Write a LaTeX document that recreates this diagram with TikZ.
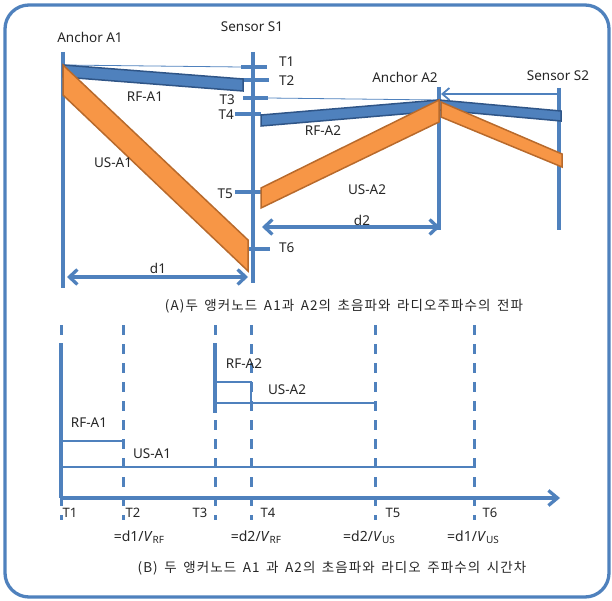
\documentclass[tikz,border=0pt]{standalone}
\usepackage{fontspec}
\setmainfont{Noto Sans}
\newfontfamily\krfont[LetterSpace=8, WordSpace=1.6]{Noto Sans CJK KR}
\usetikzlibrary{arrows.meta}
\definecolor{lineblue}{HTML}{4F81BD}
\definecolor{rfedge}{HTML}{2F5587}
\definecolor{usfill}{HTML}{F79646}
\definecolor{usedge}{HTML}{B86A2C}
\newcommand{\speedsub}[1]{\raisebox{-2.5pt}{\fontsize{10}{10}\selectfont #1}}

\begin{document}
\begin{tikzpicture}[x=1pt, y=-1pt,
  wire/.style={lineblue, line width=3.3pt},
  guide/.style={lineblue, line width=0.8pt},
  bar/.style={lineblue, line width=2.6pt},
  rfband/.style={fill=lineblue, draw=rfedge, line width=1.5pt},
  usband/.style={fill=usfill, draw=usedge, line width=1.5pt},
  lbl/.style={font=\fontsize{13.5}{15}\selectfont, text=black!85, inner sep=0pt},
  tlbl/.style={font=\fontsize{13}{15}\selectfont, text=black!85, inner sep=0pt},
  captext/.style={font=\krfont\fontsize{13.5}{16}\selectfont, text=black!85, inner sep=0pt},
  dim/.style={wire, {Straight Barb[length=8pt, width=15pt]}-{Straight Barb[length=8pt, width=15pt]}}]
  \useasboundingbox (0,0) rectangle (612,601);
  \draw[wire, rounded corners=24pt] (5,5) rectangle (609,597);

  \foreach \name/\text/\lx/\ly/\x/\ytop/\ybot in {
      A1/Anchor A1/90/37/63/52/288,
      S1/Sensor S1/252/27/253/52/283,
      A2/Anchor A2/405/77/439/87/230,
      S2/Sensor S2/558/76/559/88/230} {
    \coordinate (\name-top) at (\x,\ytop);
    \coordinate (\name-bot) at (\x,\ybot);
    \draw[wire] (\name-top) -- (\name-bot);
    \node[lbl] (\name-lbl) at (\lx,\ly) {\text};
  }

  \foreach \t/\xa/\xb/\y/\side/\lx/\ly in {
      1/241/267/67/west/279/62,
      2/243/269/80/west/279/81,
      3/243/268/98/east/235/100,
      4/235/261/114/east/234/115,
      5/235/262/192/east/233/194,
      6/248/270/249/west/279/248} {
    \coordinate (T\t-l) at (\xa,\y);
    \coordinate (T\t-r) at (\xb,\y);
    \draw[wire] (T\t-l) -- (T\t-r);
    \node[lbl, anchor=\side] (T\t-lbl) at (\lx,\ly) {T\t};
  }

  \coordinate (A1-src) at (63,65);
  \coordinate (A2-src) at (439,100);
  \draw[guide] (A1-src) -- (T1-l);
  \draw[guide] (T3-r) -- (A2-src);

  \filldraw[rfband] (A1-src) -- (243,79) -- (243,91) -- (63,77) -- cycle;
  \filldraw[usband] (A1-src) -- (248,240) -- (248,271) -- (63,95) -- cycle;
  \filldraw[rfband] (261,115) -- (A2-src) -- (439,111) -- (261,126) -- cycle;
  \filldraw[rfband] (A2-src) -- (561,111) -- (561,121) -- (439,110) -- cycle;
  \filldraw[usband] (261,188) -- (A2-src) -- (439,122) -- (261,208) -- cycle;
  \filldraw[usband] (441,102) -- (562,154) -- (562,167) -- (441,117) -- cycle;

  \coordinate (S2-arr) at (559,94);
  \coordinate (A2-arr) at (441,94);
  \draw[lineblue, line width=1.8pt, -{Straight Barb[length=7pt, width=12pt]}] (S2-arr) -- (A2-arr);

  \coordinate (d1-l) at (67,277);
  \coordinate (d1-r) at (248,277);
  \coordinate (d2-l) at (262,227);
  \coordinate (d2-r) at (440,227);
  \draw[dim] (d1-l) -- (d1-r);
  \draw[dim] (d2-l) -- (d2-r);

  \foreach \name/\text/\x/\y in {
      rfa1/RF-A1/145/97, usa1/US-A1/113/163, rfa2/RF-A2/323/131,
      usa2/US-A2/367/190, d1/d1/158/268, d2/d2/362/220} {
    \node[lbl] (\name-lbl) at (\x,\y) {\text};
  }

  \node[captext] (capA) at (344,306) {(A)두 앵커노드 A1과 A2의 초음파와 라디오주파수의 전파};

  \foreach \t/\x/\lx in {1/61/70, 2/123/133, 3/215/200, 4/251/268, 5/375/393, 6/474/490} {
    \coordinate (t\t) at (\x,498);
    \draw[wire, line width=3pt, dash pattern=on 10pt off 9pt] (\x,325) -- (\x,520);
    \node[tlbl] (t\t-lbl) at (\lx,513) {T\t};
  }
  \coordinate (axis-end) at (560,498);
  \draw[wire] (61,343) -- (t1);
  \draw[wire] (215,343) -- (215,413);
  \draw[wire, -{Straight Barb[length=9pt, width=15pt]}] (t1) -- (axis-end);

  \draw[bar] (215,382) -- (251,382) -- (251,403);
  \draw[bar] (215,403) -- (375,403);
  \draw[bar] (61,441) -- (123,441);
  \draw[bar] (61,467) -- (474,467);

  \foreach \name/\text/\x/\y in {
      brfa2/RF-A2/244/364, busa2/US-A2/287/390,
      brfa1/RF-A1/89/423, busa1/US-A1/152/454} {
    \node[lbl] (\name-lbl) at (\x,\y) {\text};
  }

  \foreach \name/\d/\v/\x in {f2/1/RF/139, f4/2/RF/256, f5/2/US/369, f6/1/US/473} {
    \node[tlbl, font=\fontsize{14}{16}\selectfont] (\name-lbl) at (\x,537) {=d\d/\textit{V}\speedsub{\v}};
  }

  \node[captext] (capB) at (332,568) {(B) 두 앵커노드 A1 과 A2의 초음파와 라디오 주파수의 시간차};
\end{tikzpicture}
\end{document}
